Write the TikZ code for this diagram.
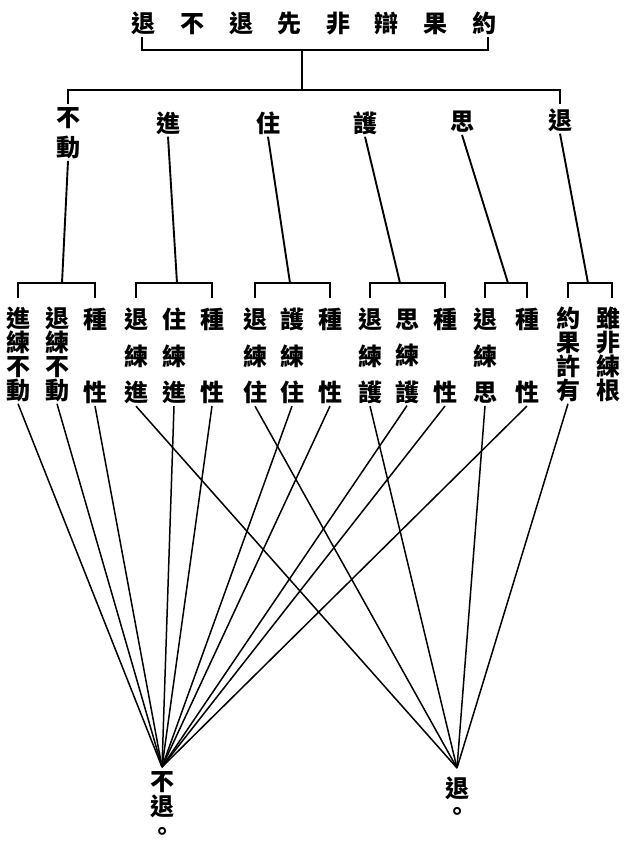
\documentclass[tikz,border=0pt]{standalone}
\usepackage{fontspec}
\newfontfamily\cjk{Noto Sans CJK TC}
\newcommand\tgap{\hspace{24.6pt}}
\begin{document}
\begin{tikzpicture}[x=1pt,y=-1pt,
  han/.style={font=\cjk\bfseries\fontsize{24}{24}\selectfont, inner sep=2pt, align=center},
  tall/.style={han, font=\cjk\bfseries\fontsize{24}{36.5}\selectfont},
  tight/.style={han, font=\cjk\bfseries\fontsize{24}{24}\selectfont},
  pair/.style={han, font=\cjk\bfseries\fontsize{24}{30}\selectfont},
  tree/.style={line width=2.2pt, line cap=rect},
  link/.style={line width=1.9pt},
  fan/.style={line width=1.5pt}]
\fill[white] (0,0) rectangle (630,845);
\useasboundingbox (0,0) rectangle (630,845);

% heading and its bracket
\node[han] (title) at (314,23) {退\tgap 不\tgap 退\tgap 先\tgap 非\tgap 辯\tgap 果\tgap 約};
\coordinate (tl) at (142,50);
\coordinate (tr) at (488,50);
\coordinate (tm) at (302,50);
\coordinate (hm) at (302,90);
\draw[tree] (tl) ++(0,-12) -- (tl) -- (tr) -- ++(0,-12);
\draw[tree] (tm) -- (hm);

% second level
\node[pair] (m1) at (68,133) {不\\動};
\node[han] (m2) at (168,123) {進};
\node[han] (m3) at (268,123) {住};
\node[han] (m4) at (365,123) {護};
\node[han] (m5) at (462,122) {思};
\node[han] (m6) at (560,120) {退};
\draw[tree] (m1 |- hm) ++(0,13) -- (m1 |- hm) -- (m6 |- hm) -- ++(0,13);

% third level columns
\node[tight] (a1) at (18,354) {進\\練\\不\\動};
\node[tight] (a2) at (57,354) {退\\練\\不\\動};
\node[tall]  (a3) at (95,356) {種\\[36.5pt]性};
\node[tall]  (b1) at (136,356) {退\\練\\進};
\node[tall]  (b2) at (174,356) {住\\練\\進};
\node[tall]  (b3) at (212,356) {種\\[36.5pt]性};
\node[tall]  (c1) at (255,356) {退\\練\\住};
\node[tall]  (c2) at (292,356) {護\\練\\住};
\node[tall]  (c3) at (330,356) {種\\[36.5pt]性};
\node[tall]  (d1) at (370,356) {退\\練\\護};
\node[tall]  (d2) at (407,356) {思\\練\\護};
\node[tall]  (d3) at (445,356) {種\\[36.5pt]性};
\node[tall]  (e1) at (485,356) {退\\練\\思};
\node[tall]  (e2) at (527,356) {種\\[36.5pt]性};
\node[tight] (f1) at (568,354) {約\\果\\許\\有};
\node[tight] (f2) at (608,354) {雖\\非\\練\\根};

% brackets over each group
\coordinate (bt) at (0,283);
\draw[tree] (a1 |- bt) ++(0,14) -- (a1 |- bt) -- (a3 |- bt) -- ++(0,14);
\draw[tree] (b1 |- bt) ++(0,14) -- (b1 |- bt) -- (b3 |- bt) -- ++(0,14);
\draw[tree] (c1 |- bt) ++(0,14) -- (c1 |- bt) -- (c3 |- bt) -- ++(0,14);
\draw[tree] (d1 |- bt) ++(0,14) -- (d1 |- bt) -- (d3 |- bt) -- ++(0,14);
\draw[tree] (e1 |- bt) ++(0,14) -- (e1 |- bt) -- (e2 |- bt) -- ++(0,14);
\draw[tree] (f1 |- bt) ++(0,14) -- (f1 |- bt) -- ([xshift=4pt]f2 |- bt) -- ++(0,14);

% stems from the second level down to the brackets
\coordinate (s1) at (62,283);
\coordinate (s2) at (177,283);
\coordinate (s3) at (290,283);
\coordinate (s4) at (400,283);
\coordinate (s5) at (508,283);
\coordinate (s6) at (588,283);
\draw[link] (m1.south) -- (s1);
\draw[link] (m2.south) -- (s2);
\draw[link] (m3.south) -- (s3);
\draw[link] (m4.south) -- (s4);
\draw[link] (m5.south) -- (s5);
\draw[link] (m6.south) -- (s6);

% the two outcomes
\coordinate (A) at (162,767);
\coordinate (B) at (457,768);
\node[han, font=\cjk\bfseries\fontsize{24}{25}\selectfont, anchor=north] (lA) at (162,769) {不\\退\\。};
\node[han, font=\cjk\bfseries\fontsize{24}{23}\selectfont, anchor=north] (lB) at (457,775) {退\\。};

\foreach \n in {a1,a2,a3,b2,b3,c2,c3,d2,d3,e2}
  \draw[fan] (\n.south) -- (A);
\foreach \n in {b1,c1,d1,e1,f1}
  \draw[fan] (\n.south) -- (B);
\end{tikzpicture}
\end{document}
